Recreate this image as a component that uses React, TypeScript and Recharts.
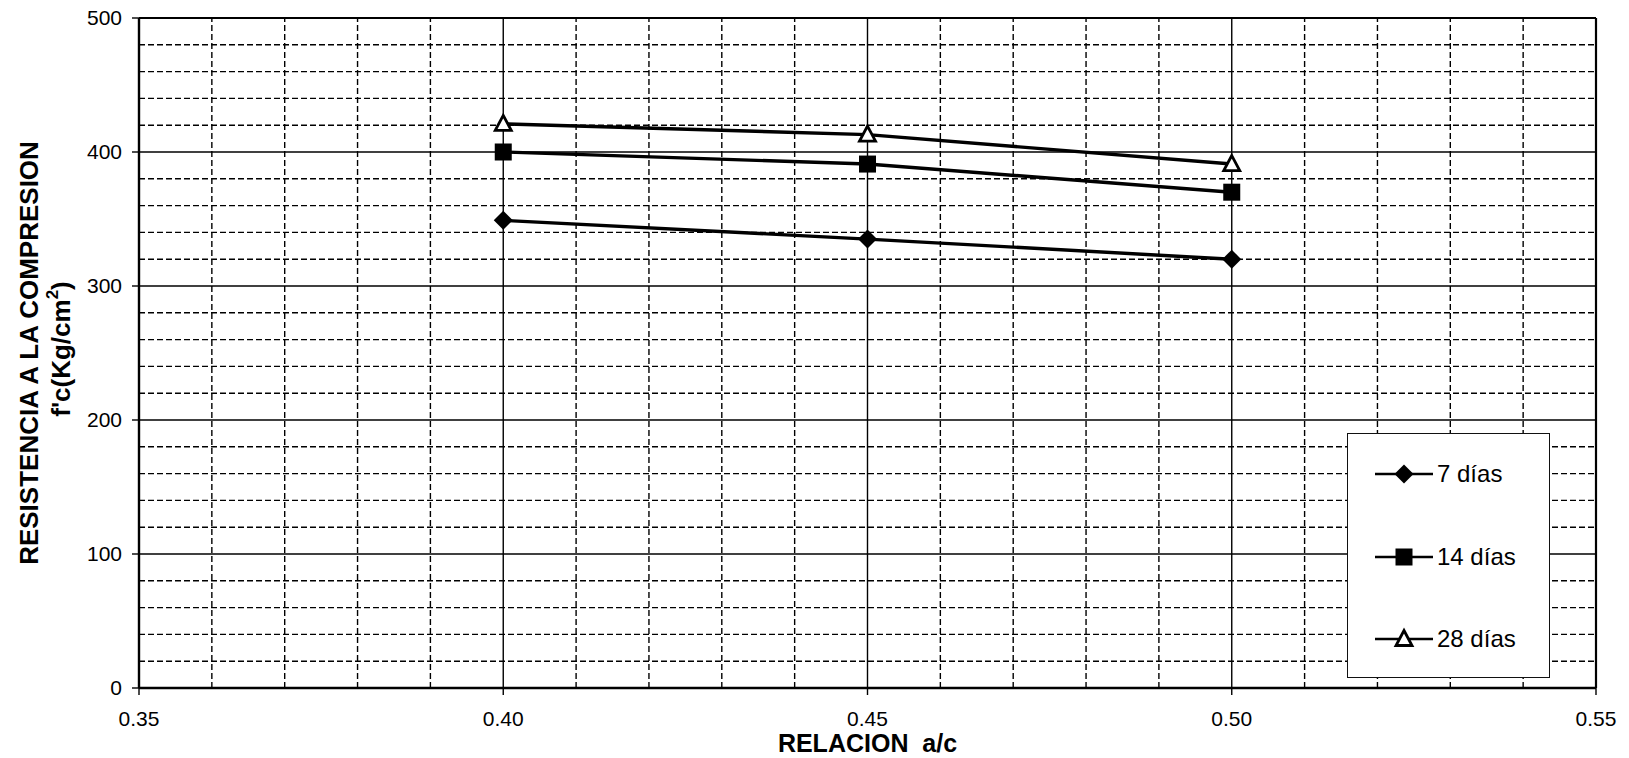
import React from "react";
import {
  LineChart,
  Line,
  XAxis,
  YAxis,
  ReferenceLine,
  Label,
} from "recharts";

// relación agua/cemento
const ratios = [0.4, 0.45, 0.5];

// f'c en kg/cm2 por edad de ensayo
const dias7 = [349, 335, 320];
const dias14 = [400, 391, 370];
const dias28 = [421, 413, 391];

const xTicks = [0.35, 0.4, 0.45, 0.5, 0.55];
const yTicks = [0, 100, 200, 300, 400, 500];
const xMinor = [0.36, 0.37, 0.38, 0.39, 0.41, 0.42, 0.43, 0.44, 0.46, 0.47, 0.48, 0.49, 0.51, 0.52, 0.53, 0.54];
const yMinor = [20, 40, 60, 80, 120, 140, 160, 180, 220, 240, 260, 280, 320, 340, 360, 380, 420, 440, 460, 480];

const data = ratios.map((r, i) => ({
  ratio: r,
  d7: dias7[i],
  d14: dias14[i],
  d28: dias28[i],
}));

const FONT = "'Liberation Sans', Arial, sans-serif";

type Shape = "diamond" | "square" | "triangle";

function Marker({ cx, cy, shape }: { cx: number; cy: number; shape: Shape }) {
  if (shape === "diamond") {
    return (
      <polygon
        points={`${cx},${cy - 9.5} ${cx + 9.5},${cy} ${cx},${cy + 9.5} ${cx - 9.5},${cy}`}
        fill="#000"
      />
    );
  }
  if (shape === "square") {
    return <rect x={cx - 8.5} y={cy - 8.5} width={17} height={17} fill="#000" />;
  }
  return (
    <polygon
      points={`${cx},${cy - 8.5} ${cx + 8},${cy + 6.5} ${cx - 8},${cy + 6.5}`}
      fill="#fff"
      stroke="#000"
      strokeWidth={2.8}
      strokeLinejoin="miter"
    />
  );
}

const dotFor = (shape: Shape) => (props: any) =>
  <Marker key={`${shape}-${props.index}`} cx={props.cx} cy={props.cy} shape={shape} />;

const SERIES: { key: string; name: string; shape: Shape }[] = [
  { key: "d7", name: "7 días", shape: "diamond" },
  { key: "d14", name: "14 días", shape: "square" },
  { key: "d28", name: "28 días", shape: "triangle" },
];

// legend box drawn over the plot, lower right
function LegendBox() {
  const rows = [40, 123, 205];
  return (
    <div
      style={{
        position: "absolute",
        left: 1347,
        top: 433,
        width: 203,
        height: 245,
        border: "1.5px solid #111",
        background: "#fff",
        boxSizing: "border-box",
        fontFamily: FONT,
      }}
    >
      {SERIES.map((s, i) => (
        <div
          key={s.key}
          style={{
            position: "absolute",
            left: 0,
            top: rows[i] - 20,
            height: 40,
            display: "flex",
            alignItems: "center",
          }}
        >
          <svg width={88} height={40} style={{ display: "block" }}>
            <line x1={27} y1={20} x2={85} y2={20} stroke="#000" strokeWidth={2.5} />
            <Marker cx={56} cy={20} shape={s.shape} />
          </svg>
          <span style={{ fontSize: 24, color: "#000", marginLeft: 1 }}>{s.name}</span>
        </div>
      ))}
    </div>
  );
}

function YTitle(props: any) {
  const { viewBox } = props;
  const cy = viewBox.y + viewBox.height / 2;
  return (
    <g fontFamily={FONT} fontWeight="bold" fontSize={26} fill="#000">
      <text x={29} y={cy} transform={`rotate(-90, 29, ${cy})`} textAnchor="middle" dominantBaseline="central">
        RESISTENCIA A LA COMPRESION
      </text>
      <text x={61} y={cy - 4} transform={`rotate(-90, 61, ${cy - 4})`} textAnchor="middle" dominantBaseline="central">
        f'c(Kg/cm<tspan dy={-9} fontSize={17}>2</tspan>
        <tspan dy={9}>)</tspan>
      </text>
    </g>
  );
}

export default function App() {
  return (
    <div style={{ position: "relative", width: 1629, height: 758, background: "#fff" }}>
      <style>{`body{margin:0;background:#fff}`}</style>
      <LineChart
        width={1629}
        height={758}
        data={data}
        margin={{ top: 18, right: 33, bottom: 0, left: 0 }}
      >
        {/* minor dashed grid */}
        {yMinor.map((v) => (
          <ReferenceLine key={`hy${v}`} y={v} stroke="#000" strokeWidth={1.4} strokeDasharray="6 3" />
        ))}
        {xMinor.map((v) => (
          <ReferenceLine key={`vx${v}`} x={v} stroke="#000" strokeWidth={1.4} strokeDasharray="6 3" />
        ))}
        {/* major solid grid */}
        {yTicks.slice(1, -1).map((v) => (
          <ReferenceLine key={`HY${v}`} y={v} stroke="#000" strokeWidth={1.4} />
        ))}
        {xTicks.slice(1, -1).map((v) => (
          <ReferenceLine key={`VX${v}`} x={v} stroke="#000" strokeWidth={1.4} />
        ))}
        {/* frame top/right */}
        <ReferenceLine y={500} stroke="#000" strokeWidth={2.2} />
        <ReferenceLine x={0.55} stroke="#000" strokeWidth={2.2} />

        <XAxis
          dataKey="ratio"
          type="number"
          domain={[0.35, 0.55]}
          ticks={xTicks}
          allowDataOverflow
          tickFormatter={(v: number) => v.toFixed(2)}
          height={70}
          tickSize={7}
          tickMargin={16}
          stroke="#000"
          axisLine={{ stroke: "#000", strokeWidth: 2.4 }}
          tickLine={{ stroke: "#000", strokeWidth: 1.4 }}
          tick={{ fontSize: 21, fill: "#000", fontFamily: FONT }}
        >
          <Label
            value={"RELACION\u00A0\u00A0a/c"}
            position="insideBottom"
            offset={6}
            style={{ fontSize: 25, fontWeight: "bold", fill: "#000", fontFamily: FONT }}
          />
        </XAxis>
        <YAxis
          type="number"
          domain={[0, 500]}
          ticks={yTicks}
          allowDataOverflow
          width={139}
          tickSize={7}
          tickMargin={10}
          stroke="#000"
          axisLine={{ stroke: "#000", strokeWidth: 2.4 }}
          tickLine={{ stroke: "#000", strokeWidth: 1.4 }}
          tick={{ fontSize: 21, fill: "#000", fontFamily: FONT }}
        >
          <Label content={<YTitle />} />
        </YAxis>

        {SERIES.map((s) => (
          <Line
            key={s.key}
            dataKey={s.key}
            name={s.name}
            type="linear"
            stroke="#000"
            strokeWidth={3.4}
            dot={dotFor(s.shape)}
            activeDot={false}
            isAnimationActive={false}
          />
        ))}
      </LineChart>
      <LegendBox />
    </div>
  );
}
